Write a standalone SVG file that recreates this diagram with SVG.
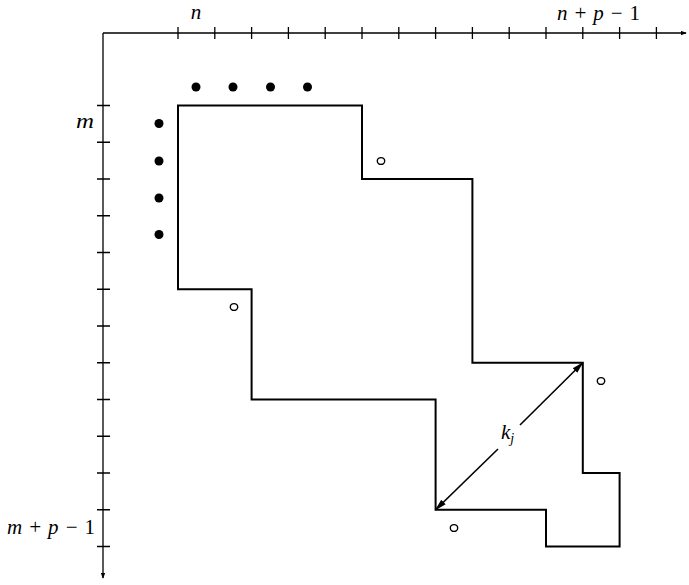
<svg xmlns="http://www.w3.org/2000/svg" width="689" height="585" viewBox="0 0 689 585">
<defs>
<style>
.ax{stroke:#000;stroke-width:1.3;fill:none}
.tk{stroke:#000;stroke-width:1.3}
.poly{stroke:#000;stroke-width:2;fill:none;stroke-linejoin:miter}
.dot{fill:#000}
.ring{fill:none;stroke:#000;stroke-width:1.4}
.lbl{font-family:"Liberation Serif","Times New Roman","DejaVu Serif",serif;font-style:italic;font-size:21px;fill:#000}
.num{font-style:normal}
.arr{stroke:#000;stroke-width:1.6;fill:none}
</style>
<marker id="ah" viewBox="0 0 12 8" refX="11" refY="4" markerWidth="12" markerHeight="8" markerUnits="userSpaceOnUse" orient="auto">
<path d="M0,0.8 L12,4 L0,7.2 Z" fill="#000"/>
</marker>
<marker id="sa" viewBox="0 0 8 6" refX="7" refY="3" markerWidth="6" markerHeight="5" markerUnits="userSpaceOnUse" orient="auto">
<path d="M0,0 L8,3 L0,6 Z" fill="#000"/>
</marker>
</defs>
<g id="axes">
<path class="ax" d="M103,33 L686,33" marker-end="url(#sa)"/>
<path class="ax" d="M103,33 L103,578" marker-end="url(#sa)"/>
<g class="tk">
<path d="M178,27V39M214.8,27V39M251.6,27V39M288.4,27V39M325.2,27V39M362,27V39M398.8,27V39M435.6,27V39M472.4,27V39M509.2,27V39M546,27V39M582.8,27V39M619.6,27V39M656.4,27V39"/>
<path d="M97,105.5H110M97,142.25H110M97,179H110M97,215.75H110M97,252.5H110M97,289.25H110M97,326H110M97,362.75H110M97,399.5H110M97,436.25H110M97,473H110M97,509.75H110M97,546.5H110"/>
</g>
<text class="lbl" x="196" y="19" text-anchor="middle">n</text>
<text class="lbl" x="557" y="20" textLength="83" lengthAdjust="spacing">n + p − <tspan class="num">1</tspan></text>
<text class="lbl" x="76" y="128" textLength="18" lengthAdjust="spacingAndGlyphs">m</text>
<text class="lbl" x="7" y="534" textLength="88" lengthAdjust="spacing">m + p − <tspan class="num">1</tspan></text>
</g>
<g id="region">
<path class="poly" d="M178,105.5 H362 V179 H472.4 V362.75 H582.8 V473 H619.6 V546.5 H546 V509.75 H435.6 V399.5 H251.6 V289.25 H178 Z"/>
</g>
<g id="dots">
<circle class="dot" cx="196" cy="87" r="4.5"/>
<circle class="dot" cx="233" cy="87" r="4.5"/>
<circle class="dot" cx="270.5" cy="87" r="4.5"/>
<circle class="dot" cx="307.5" cy="87" r="4.5"/>
<circle class="dot" cx="159" cy="123.5" r="4.5"/>
<circle class="dot" cx="159" cy="161" r="4.5"/>
<circle class="dot" cx="159" cy="198" r="4.5"/>
<circle class="dot" cx="159" cy="234.5" r="4.5"/>
</g>
<g id="rings">
<ellipse class="ring" cx="381" cy="161" rx="3.7" ry="3.4"/>
<ellipse class="ring" cx="234" cy="307" rx="3.7" ry="3.4"/>
<ellipse class="ring" cx="601" cy="381" rx="3.7" ry="3.4"/>
<ellipse class="ring" cx="454" cy="528" rx="3.7" ry="3.4"/>
</g>
<g id="connectors">
<path class="arr" d="M498,449 L435.6,509.75" marker-end="url(#ah)"/>
<path class="arr" d="M520,425 L582.8,362.75" marker-end="url(#ah)"/>
<text class="lbl" x="501" y="439">k<tspan font-size="14" dy="4">j</tspan></text>
</g>
</svg>
